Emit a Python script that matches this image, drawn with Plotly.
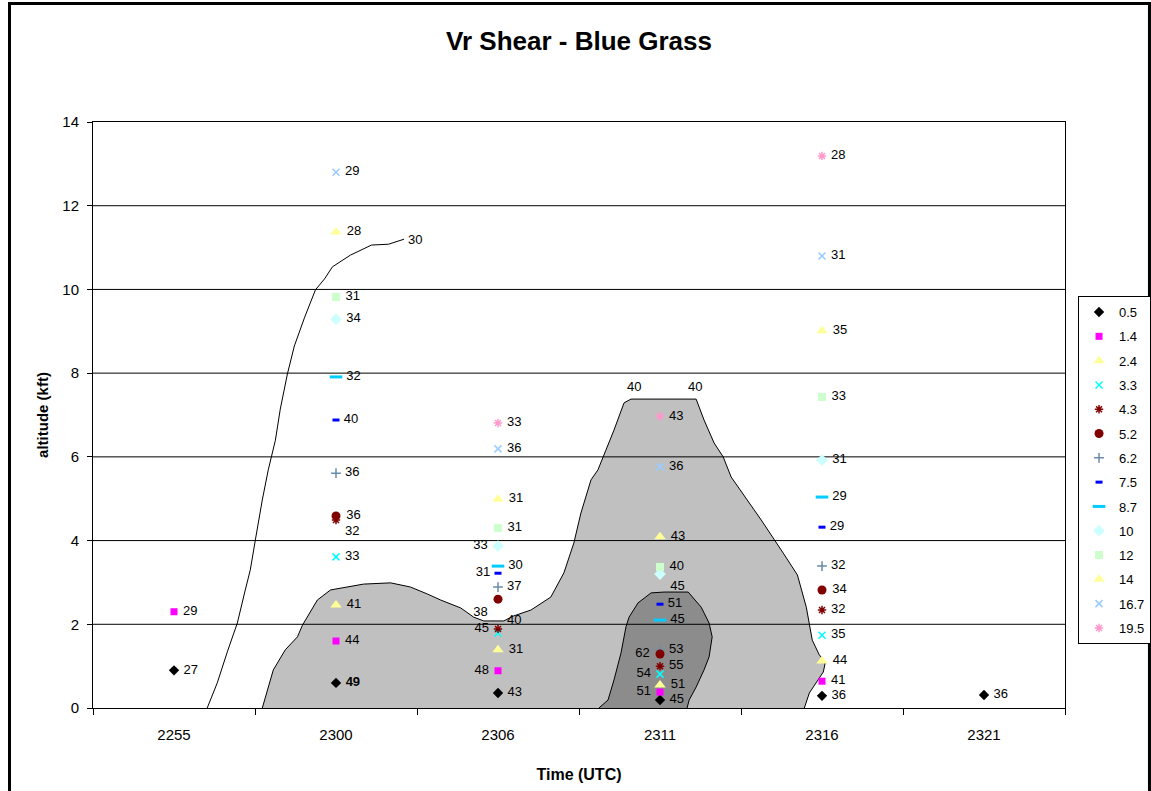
import plotly.graph_objects as go

# ---------------- data ----------------
categories = ["2255", "2300", "2306", "2311", "2316", "2321"]
series_names = ["0.5", "1.4", "2.4", "3.3", "4.3", "5.2", "6.2", "7.5", "8.7", "10", "12", "14", "16.7", "19.5"]

alt_05 = [0.9, 0.6, 0.36, 0.19, 0.29, 0.31]
alt_14 = [2.3, 1.6, 0.89, 0.38, 0.64, None]
alt_24 = [None, 2.46, 1.39, 0.55, 1.12, None]
alt_33 = [None, 3.61, 1.79, 0.81, 1.74, None]
alt_43 = [None, 4.49, 1.89, 1.00, 2.34, None]
alt_52 = [None, 4.59, 2.60, 1.29, 2.82, None]
alt_62 = [None, 5.61, 2.89, 1.38, 3.39, None]
alt_75 = [None, 6.88, 3.22, 2.48, 4.32, None]
alt_87 = [None, 7.91, 3.39, 2.10, 5.04, None]
alt_10 = [None, 9.29, 3.87, 3.20, 5.92, None]
alt_12 = [None, 9.82, 4.30, 3.37, 7.43, None]
alt_14d = [None, 11.37, 4.99, 4.09, 9.01, None]
alt_167 = [None, 12.80, 6.19, 5.76, 10.80, None]
alt_195 = [None, None, 6.81, 6.97, 13.19, None]

shear_05 = [27, 49, 43, 45, 36, 36]
shear_14 = [29, 44, 48, 51, 41, None]
shear_24 = [None, 41, 31, 51, 44, None]
shear_33 = [None, 33, 40, 54, 35, None]
shear_43 = [None, 32, 45, 55, 32, None]
shear_52 = [None, 36, 38, 62, 34, None]
shear_62 = [None, 36, 37, 53, 32, None]
shear_75 = [None, 40, 31, 51, 29, None]
shear_87 = [None, 32, 30, 45, 29, None]
shear_10 = [None, 34, 33, 45, 31, None]
shear_12 = [None, 31, 31, 40, 33, None]
shear_14d = [None, 28, 31, 43, 35, None]
shear_167 = [None, 29, 36, 36, 31, None]
shear_195 = [None, None, 33, 43, 28, None]

altitudes = [alt_05, alt_14, alt_24, alt_33, alt_43, alt_52, alt_62, alt_75, alt_87, alt_10, alt_12, alt_14d, alt_167, alt_195]
shears = [shear_05, shear_14, shear_24, shear_33, shear_43, shear_52, shear_62, shear_75, shear_87, shear_10, shear_12, shear_14d, shear_167, shear_195]

# contour outlines (x in category-index units, y in kft)
c30_x = [0.205, 0.267, 0.329, 0.391, 0.440, 0.471, 0.502, 0.545, 0.582, 0.626, 0.656, 0.700, 0.743, 0.805, 0.873, 0.929, 0.978, 1.089, 1.219, 1.324, 1.42]
c30_y = [0.0, 0.60, 1.34, 2.03, 2.82, 3.30, 4.01, 4.97, 5.69, 6.40, 7.14, 7.98, 8.65, 9.32, 9.99, 10.25, 10.54, 10.82, 11.06, 11.08, 11.20]

c40_x = [0.545, 0.613, 0.687, 0.762, 0.793, 0.885, 0.966, 1.170, 1.337, 1.460, 1.566, 1.646, 1.770, 1.850, 1.912, 2.036, 2.097, 2.203, 2.326, 2.407, 2.468, 2.512, 2.574, 2.617, 2.666, 2.716, 2.778, 2.821, 3.223, 3.272, 3.334, 3.390, 3.439, 3.625, 3.761, 3.848, 3.903, 3.940, 3.983, 4.021, 4.008, 3.965, 3.922, 3.891]
c40_y = [0.0, 0.91, 1.39, 1.70, 1.98, 2.58, 2.82, 2.96, 2.99, 2.89, 2.72, 2.58, 2.39, 2.17, 2.08, 2.08, 2.20, 2.34, 2.65, 3.23, 3.94, 4.66, 5.45, 5.69, 6.16, 6.64, 7.29, 7.38, 7.38, 6.88, 6.33, 6.00, 5.52, 4.49, 3.70, 3.18, 2.41, 1.62, 1.27, 1.10, 0.86, 0.62, 0.36, 0.0]

c50_x = [2.623, 2.679, 2.716, 2.759, 2.790, 2.809, 2.864, 2.945, 3.025, 3.174, 3.254, 3.303, 3.322, 3.303, 3.272, 3.223, 3.180, 3.167]
c50_y = [0.0, 0.19, 0.67, 1.31, 1.94, 2.17, 2.51, 2.75, 2.77, 2.77, 2.41, 2.03, 1.70, 1.22, 0.91, 0.50, 0.19, 0.0]

contour_label_text = ["30", "40", "50", "50", "40", "40", "40", "30"]
contour_label_x = [0.193, 0.605, 2.574, 3.211, 3.792, 2.840, 3.217, 1.485]
contour_label_y = [-0.24, -0.26, -0.26, -0.26, -0.26, 7.69, 7.69, 11.20]

y_ticks = [0, 2, 4, 6, 8, 10, 12, 14]

# ---------------- styles ----------------
marker_styles = {
    "0.5": dict(symbol="diamond", color="#000000", size=8),
    "1.4": dict(symbol="square", color="#FF00FF", size=7),
    "2.4": dict(symbol="triangle-up", color="#FFFF99", size=10),
    "3.3": dict(symbol="x-thin-open", color="#00FFFF", size=7, line=dict(color="#00FFFF", width=1.5)),
    "4.3": dict(symbol="asterisk-open", color="#800000", size=7, line=dict(color="#800000", width=1.5)),
    "5.2": dict(symbol="circle", color="#800000", size=9),
    "6.2": dict(symbol="cross-thin-open", color="#6A8CA8", size=7, line=dict(color="#6A8CA8", width=1.5)),
    "7.5": dict(symbol="line-ew-open", color="#0000FF", size=5, line=dict(color="#0000FF", width=3)),
    "8.7": dict(symbol="line-ew-open", color="#00CCFF", size=9, line=dict(color="#00CCFF", width=3)),
    "10": dict(symbol="diamond", color="#CCFFFF", size=9),
    "12": dict(symbol="square", color="#CCFFCC", size=8),
    "14": dict(symbol="triangle-up", color="#FFFF99", size=10),
    "16.7": dict(symbol="x-thin-open", color="#99CCFF", size=7, line=dict(color="#99CCFF", width=1.5)),
    "19.5": dict(symbol="asterisk-open", color="#FF99CC", size=7, line=dict(color="#FF99CC", width=1.5)),
}
label_pos_override = {
    ("1.4", "2306"): "middle left", ("1.4", "2311"): "middle left",
    ("3.3", "2306"): "top right", ("3.3", "2311"): "middle left",
    ("4.3", "2300"): "bottom right", ("4.3", "2306"): "middle left",
    ("5.2", "2306"): "bottom left", ("5.2", "2311"): "middle left",
    ("7.5", "2306"): "middle left", ("10", "2306"): "middle left",
    ("10", "2311"): "bottom right",
}
bold_labels = {("0.5", "2300")}
# drawing order (circle series drawn over the "+" series); legend keeps series order
draw_order = ["0.5", "1.4", "2.4", "3.3", "4.3", "6.2", "5.2", "7.5", "8.7", "10", "12", "14", "16.7", "19.5"]

FONT = "Arial, Liberation Sans, sans-serif"
fig = go.Figure()

# contours
fig.add_trace(go.Scatter(x=c40_x, y=c40_y, mode="lines", fill="toself", fillcolor="#C0C0C0",
                         line=dict(color="#000000", width=1), showlegend=False, hoverinfo="skip"))
fig.add_trace(go.Scatter(x=c50_x, y=c50_y, mode="lines", fill="toself", fillcolor="#8C8C8C",
                         line=dict(color="#000000", width=1), showlegend=False, hoverinfo="skip"))
fig.add_trace(go.Scatter(x=c30_x, y=c30_y, mode="lines",
                         line=dict(color="#000000", width=1), showlegend=False, hoverinfo="skip"))

# gridlines drawn above the shading
for yt in y_ticks[1:-1]:
    fig.add_trace(go.Scatter(x=[-0.5, len(categories) - 0.5], y=[yt, yt], mode="lines",
                             line=dict(color="#000000", width=1), showlegend=False, hoverinfo="skip"))

xs = list(range(len(categories)))
for name in draw_order:
    k = series_names.index(name)
    alts, vals = altitudes[k], shears[k]
    px, py, txt, pos = [], [], [], []
    for i, (a, v) in enumerate(zip(alts, vals)):
        if a is None:
            continue
        px.append(xs[i])
        py.append(a)
        p = label_pos_override.get((name, categories[i]), "middle right")
        t = str(v)
        if (name, categories[i]) in bold_labels:
            t = "<b>" + t + "</b>"
        t = (t + " ") if p.endswith("left") else (" " + t)
        txt.append(t)
        pos.append(p)
    fig.add_trace(go.Scatter(x=px, y=py, mode="markers+text", name=name, text=txt, legendgroup=name,
                             legendrank=k + 1,
                             textposition=pos, textfont=dict(family=FONT, size=13, color="#000000"),
                             marker=marker_styles[name], cliponaxis=False))

for t, x, y in zip(contour_label_text, contour_label_x, contour_label_y):
    fig.add_annotation(x=x, y=y, text=t, showarrow=False, font=dict(family=FONT, size=13, color="#000000"))

fig.update_layout(
    width=1151, height=791,
    paper_bgcolor="white", plot_bgcolor="white",
    margin=dict(l=93, r=86, t=122, b=83, autoexpand=False),
    font=dict(family=FONT, size=13, color="#000000"),
    title=dict(text="<b>Vr Shear - Blue Grass</b>", x=0.5, xref="paper", y=1 - 41 / 791, yanchor="middle",
               font=dict(family=FONT, size=26, color="#000000")),
    showlegend=True,
    legend=dict(x=1.0134, xanchor="left", y=0.406, yanchor="middle", bgcolor="white",
                bordercolor="#000000", borderwidth=1, font=dict(family=FONT, size=13, color="#000000"),
                itemwidth=30, tracegroupgap=4.4),
    xaxis=dict(range=[-0.5, len(categories) - 0.5], tickmode="array", tickvals=xs, ticktext=categories,
               ticks="", showgrid=False, zeroline=False, showline=True, linecolor="#000000", linewidth=1,
               mirror=True, tickfont=dict(family=FONT, size=15, color="#000000"), ticklabelstandoff=13,
               minor=dict(tickmode="array", tickvals=[i - 0.5 for i in range(len(categories) + 1)],
                          ticks="outside", ticklen=6, tickcolor="#000000", showgrid=False),
               title=dict(text="<b>Time (UTC)</b>", font=dict(family=FONT, size=16, color="#000000"), standoff=26)),
    yaxis=dict(range=[0, 14], tickmode="array", tickvals=y_ticks, ticks="outside", ticklen=5,
               tickcolor="#000000", showgrid=False, zeroline=False, showline=True, linecolor="#000000",
               linewidth=1, mirror=True, tickfont=dict(family=FONT, size=15, color="#000000"),
               ticklabelstandoff=5,
               title=dict(text="<b>altitude (kft)</b>", font=dict(family=FONT, size=15, color="#000000"), standoff=10)),
    shapes=[dict(type="rect", xref="paper", yref="paper", x0=-0.0859, x1=1.0869, y0=-0.2, y1=1.2022,
                 line=dict(color="#000000", width=3), fillcolor="rgba(0,0,0,0)", layer="below")],
)

fig.write_html("out.html", config={"displayModeBar": False},
               post_script="document.body.style.margin='0';document.body.style.overflow='hidden';")
